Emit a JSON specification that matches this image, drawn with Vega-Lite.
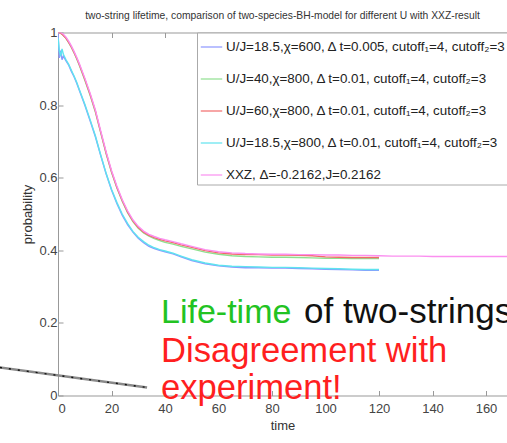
{
  "$schema": "https://vega.github.io/schema/vega-lite/v6.json",
  "autosize": {"type": "none"},
  "padding": {"left": 58, "top": 32.5, "right": 0, "bottom": 47.5},
  "width": 449,
  "height": 363,
  "background": "white",
  "title": {
    "text": "two-string lifetime, comparison of two-species-BH-model for different U with XXZ-result",
    "fontSize": 10.3,
    "font": "Liberation Sans",
    "fontWeight": "normal",
    "color": "#333",
    "anchor": "middle",
    "offset": 5
  },
  "config": {
    "view": {"stroke": null},
    "font": "Liberation Sans",
    "axis": {
      "labelFont": "Liberation Sans",
      "labelFontSize": 13,
      "labelColor": "#444",
      "titleFont": "Liberation Sans",
      "titleFontSize": 13,
      "titleFontWeight": "normal",
      "titleColor": "#333",
      "domainColor": "#999",
      "tickColor": "#999",
      "grid": false
    },
    "legend": {
      "orient": "none",
      "legendX": 139,
      "legendY": 0,
      "fillColor": "white",
      "strokeColor": "#aaa",
      "padding": 3,
      "rowPadding": 14,
      "symbolType": "stroke",
      "symbolSize": 460,
      "symbolStrokeWidth": 1.2,
      "labelFont": "Liberation Sans",
      "labelFontSize": 13.4,
      "labelColor": "#222",
      "labelLimit": 0,
      "labelOffset": 3
    }
  },
  "datasets": {
    "curves": [
      {"t": 0, "a": 1.0, "b": 1.0, "c": 1.0, "d": 0.985, "e": 1.0},
      {"t": 0.5, "a": 0.93, "b": 1.0, "c": 1.0, "d": 0.95, "e": 1.0},
      {"t": 1, "a": 0.95, "b": 0.998, "c": 0.998, "d": 0.935, "e": 1.0},
      {"t": 1.5, "a": 0.925, "b": 0.995, "c": 0.995, "d": 0.955, "e": 0.998},
      {"t": 2, "a": 0.935, "b": 0.992, "c": 0.992, "d": 0.94, "e": 0.995},
      {"t": 3, "a": 0.922, "b": 0.984, "c": 0.984, "d": 0.925, "e": 0.987},
      {"t": 4, "a": 0.91, "b": 0.972, "c": 0.973, "d": 0.912, "e": 0.976},
      {"t": 5, "a": 0.893, "b": 0.959, "c": 0.96, "d": 0.896, "e": 0.963},
      {"t": 6, "a": 0.878, "b": 0.944, "c": 0.945, "d": 0.88, "e": 0.948},
      {"t": 7, "a": 0.86, "b": 0.927, "c": 0.929, "d": 0.863, "e": 0.932},
      {"t": 8, "a": 0.84, "b": 0.909, "c": 0.911, "d": 0.842, "e": 0.914},
      {"t": 10, "a": 0.8, "b": 0.869, "c": 0.872, "d": 0.803, "e": 0.875},
      {"t": 12, "a": 0.757, "b": 0.827, "c": 0.83, "d": 0.76, "e": 0.833},
      {"t": 14, "a": 0.712, "b": 0.78, "c": 0.783, "d": 0.715, "e": 0.786},
      {"t": 16, "a": 0.66, "b": 0.723, "c": 0.725, "d": 0.662, "e": 0.728},
      {"t": 18, "a": 0.61, "b": 0.666, "c": 0.668, "d": 0.612, "e": 0.671},
      {"t": 20, "a": 0.566, "b": 0.615, "c": 0.617, "d": 0.568, "e": 0.62},
      {"t": 22, "a": 0.529, "b": 0.572, "c": 0.574, "d": 0.532, "e": 0.577},
      {"t": 24, "a": 0.497, "b": 0.535, "c": 0.537, "d": 0.5, "e": 0.54},
      {"t": 26, "a": 0.471, "b": 0.504, "c": 0.506, "d": 0.474, "e": 0.509},
      {"t": 28, "a": 0.45, "b": 0.479, "c": 0.481, "d": 0.452, "e": 0.484},
      {"t": 30, "a": 0.433, "b": 0.461, "c": 0.463, "d": 0.436, "e": 0.466},
      {"t": 32, "a": 0.421, "b": 0.448, "c": 0.45, "d": 0.424, "e": 0.453},
      {"t": 34, "a": 0.411, "b": 0.439, "c": 0.441, "d": 0.414, "e": 0.444},
      {"t": 36, "a": 0.405, "b": 0.432, "c": 0.435, "d": 0.407, "e": 0.438},
      {"t": 38, "a": 0.4, "b": 0.427, "c": 0.43, "d": 0.402, "e": 0.433},
      {"t": 40, "a": 0.396, "b": 0.422, "c": 0.426, "d": 0.398, "e": 0.429},
      {"t": 43, "a": 0.39, "b": 0.417, "c": 0.421, "d": 0.392, "e": 0.424},
      {"t": 46, "a": 0.382, "b": 0.411, "c": 0.415, "d": 0.384, "e": 0.418},
      {"t": 50, "a": 0.372, "b": 0.404, "c": 0.408, "d": 0.374, "e": 0.411},
      {"t": 55, "a": 0.363, "b": 0.395, "c": 0.399, "d": 0.365, "e": 0.402},
      {"t": 60, "a": 0.357, "b": 0.389, "c": 0.393, "d": 0.359, "e": 0.396},
      {"t": 65, "a": 0.354, "b": 0.385, "c": 0.39, "d": 0.356, "e": 0.393},
      {"t": 70, "a": 0.352, "b": 0.383, "c": 0.388, "d": 0.355, "e": 0.391},
      {"t": 75, "a": 0.352, "b": 0.382, "c": 0.388, "d": 0.354, "e": 0.39},
      {"t": 80, "a": 0.351, "b": 0.381, "c": 0.387, "d": 0.353, "e": 0.389},
      {"t": 85, "a": 0.351, "b": 0.381, "c": 0.387, "d": 0.353, "e": 0.389},
      {"t": 90, "a": 0.35, "b": 0.38, "c": 0.386, "d": 0.352, "e": 0.388},
      {"t": 95, "a": 0.349, "b": 0.379, "c": 0.385, "d": 0.351, "e": 0.388},
      {"t": 100, "a": 0.348, "b": 0.378, "c": 0.382, "d": 0.35, "e": 0.387},
      {"t": 105, "a": 0.347, "b": 0.378, "c": 0.381, "d": 0.349, "e": 0.387},
      {"t": 110, "a": 0.346, "b": 0.377, "c": 0.38, "d": 0.348, "e": 0.386},
      {"t": 115, "a": 0.345, "b": 0.377, "c": 0.38, "d": 0.347, "e": 0.386},
      {"t": 120, "a": 0.345, "b": 0.377, "c": 0.38, "d": 0.347, "e": 0.385},
      {"t": 125, "e": 0.384},
      {"t": 130, "e": 0.384},
      {"t": 135, "e": 0.384},
      {"t": 140, "e": 0.383},
      {"t": 145, "e": 0.383},
      {"t": 150, "e": 0.383},
      {"t": 155, "e": 0.383},
      {"t": 160, "e": 0.383},
      {"t": 168, "e": 0.383}
    ],
    "pointer": [
      {"t": -21.7, "p": 0.077},
      {"t": 33.3, "p": 0.022}
    ]
  },
  "layer": [
    {
      "data": {"name": "curves"},
      "transform": [
        {"fold": ["a", "b", "c", "d", "e"], "as": ["series", "p"]},
        {"filter": "isValid(datum.p)"}
      ],
      "mark": {"type": "line", "strokeWidth": 1.4, "clip": true},
      "encoding": {
        "x": {
          "field": "t", "type": "quantitative",
          "scale": {"domain": [0, 167.85], "nice": false, "zero": false},
          "axis": {
            "orient": "bottom", "title": "time", "values": [0, 20, 40, 60, 80, 100, 120, 140, 160],
            "tickSize": -5, "labelPadding": 12, "titlePadding": 4
          }
        },
        "y": {
          "field": "p", "type": "quantitative",
          "scale": {"domain": [0, 1], "nice": false},
          "axis": {
            "title": "probability", "values": [0, 0.2, 0.4, 0.6, 0.8, 1],
            "labelExpr": "datum.value == 0 ? '0' : datum.value == 1 ? '1' : format(datum.value, '.1f')",
            "tickSize": -5, "labelPadding": 6, "titlePadding": 4
          }
        },
        "color": {
          "field": "series", "type": "nominal",
          "scale": {
            "domain": ["a", "b", "c", "d", "e"],
            "range": ["#8c96ff", "#8fe08f", "#f26a6a", "#5fe3ef", "#fb8ff0"]
          },
          "legend": {
            "title": null,
            "labelExpr": "{'a': 'U/J=18.5,χ=600, Δ t=0.005, cutoff₁=4, cutoff₂=3', 'b': 'U/J=40,χ=800, Δ t=0.01, cutoff₁=4, cutoff₂=3', 'c': 'U/J=60,χ=800, Δ t=0.01, cutoff₁=4, cutoff₂=3', 'd': 'U/J=18.5,χ=800, Δ t=0.01, cutoff₁=4, cutoff₂=3', 'e': 'XXZ, Δ=-0.2162,J=0.2162'}[datum.value]"
          }
        }
      }
    },
    {
      "data": {"name": "pointer"},
      "mark": {"type": "line", "color": "#8a8a8a", "strokeWidth": 2.5},
      "encoding": {
        "x": {
          "field": "t", "type": "quantitative",
          "axis": {"orient": "top", "title": null, "labels": false, "tickSize": -5,
                   "values": [0, 20, 40, 60, 80, 100, 120, 140, 160]}
        },
        "y": {"field": "p", "type": "quantitative"}
      }
    },
    {
      "data": {"name": "pointer"},
      "mark": {"type": "line", "color": "#111", "strokeWidth": 1.4, "strokeDash": [2, 7]},
      "encoding": {
        "x": {"field": "t", "type": "quantitative", "axis": null},
        "y": {"field": "p", "type": "quantitative"}
      }
    },
    {
      "data": {"values": [{"t": 38.5, "p": 0.2, "label": "Life-time"}]},
      "mark": {"type": "text", "align": "left", "baseline": "alphabetic", "font": "Liberation Sans", "fontSize": 34, "color": "#22c322"},
      "encoding": {
        "x": {"field": "t", "type": "quantitative", "axis": null},
        "y": {"field": "p", "type": "quantitative"},
        "text": {"field": "label"}
      }
    },
    {
      "data": {"values": [{"t": 92, "p": 0.2, "label": "of two-strings"}]},
      "mark": {"type": "text", "align": "left", "baseline": "alphabetic", "font": "Liberation Sans", "fontSize": 35, "color": "#111"},
      "encoding": {
        "x": {"field": "t", "type": "quantitative", "axis": null},
        "y": {"field": "p", "type": "quantitative"},
        "text": {"field": "label"}
      }
    },
    {
      "data": {"values": [
        {"t": 38.5, "p": 0.091, "label": "Disagreement with"},
        {"t": 38.5, "p": -0.01, "label": "experiment!"}
      ]},
      "mark": {"type": "text", "align": "left", "baseline": "alphabetic", "font": "Liberation Sans", "fontSize": 34.6, "color": "#ff1f1f"},
      "encoding": {
        "x": {"field": "t", "type": "quantitative", "axis": null},
        "y": {"field": "p", "type": "quantitative"},
        "text": {"field": "label"}
      }
    }
  ],
  "resolve": {"axis": {"x": "independent", "y": "shared"}}
}
